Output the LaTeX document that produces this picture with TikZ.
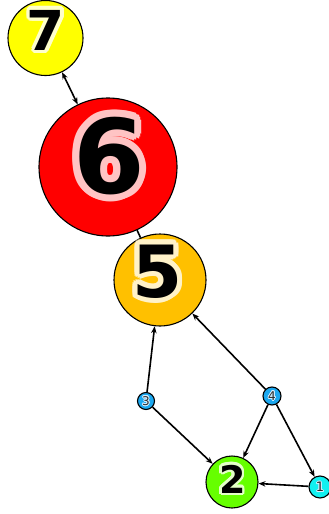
\documentclass[tikz,border=0pt]{standalone}
\usepackage{fontspec}
\setmainfont{DejaVu Sans}
\usetikzlibrary{arrows.meta}
\definecolor{cseven}{HTML}{FFFF00}
\definecolor{csix}{HTML}{FF0000}
\definecolor{cfive}{HTML}{FFC000}
\definecolor{ctwo}{HTML}{66FF00}
\definecolor{cblue}{HTML}{1BA8F0}
\definecolor{ccyan}{HTML}{11F0F0}
\definecolor{hseven}{HTML}{FFFFCC}
\definecolor{hsix}{HTML}{FFC4C4}
\definecolor{hfive}{HTML}{FFF2C8}
\definecolor{htwo}{HTML}{E4FFC8}
\definecolor{hblue}{HTML}{D4EEFF}
\definecolor{lgray}{HTML}{2A2A2A}
\newcommand{\halolabel}[7]{%
  \foreach \a in {0,22.5,...,337.5}
    \node[font=#7\fontsize{#2}{#2}\selectfont,text=#3,inner sep=0pt,shift={(\a:#4)}] at (#1) {#5};
  \node[font=#7\fontsize{#2}{#2}\selectfont,text=#6,inner sep=0pt] at (#1) {#5};}
\begin{document}
\begin{tikzpicture}[x=1pt,y=-1pt,
  vtx/.style={circle,draw=black,line width=1.1pt,inner sep=0pt,minimum size=#1},
  edge/.style={line width=1.6pt,-{Stealth[length=7pt,width=5.5pt]}},
  dedge/.style={line width=1.6pt,{Stealth[length=7pt,width=5.5pt]}-{Stealth[length=7pt,width=5.5pt]}}]
\useasboundingbox (0,0) rectangle (329,514);
\node[vtx=75pt,fill=cseven] (n7) at (45.5,38) {};
\node[vtx=138pt,fill=csix] (n6) at (108,167) {};
\node[vtx=92pt,fill=cfive] (n5) at (160,280) {};
\node[vtx=52pt,fill=ctwo] (n2) at (232,482) {};
\node[vtx=17pt,fill=cblue] (n3) at (146,401) {};
\node[vtx=18pt,fill=cblue] (n4) at (272,396) {};
\node[vtx=22pt,fill=ccyan] (n1) at (320,487) {};
\draw[dedge] (n7) -- (n6);
\draw[line width=1.6pt] (n6) -- (n5);
\draw[edge] (n3) -- (n5);
\draw[edge] (n4) -- (n5);
\draw[edge] (n3) -- (n2);
\draw[edge] (n4) -- (n2);
\draw[edge] (n4) -- (n1);
\draw[edge] (n1) -- (n2);
\coordinate (l7) at (46,30);
\coordinate (l6) at (109,156);
\coordinate (l5) at (157.5,271.5);
\coordinate (l2) at (232.5,479);
\halolabel{l7}{55}{hseven}{3.5}{7}{black}{\bfseries}
\halolabel{l6}{103}{hsix}{7}{6}{black}{\bfseries}
\halolabel{l5}{72}{hfive}{5}{5}{black}{\bfseries}
\halolabel{l2}{38}{htwo}{2.5}{2}{black}{\bfseries}
\halolabel{n3}{12}{hblue}{0.8}{3}{lgray}{}
\halolabel{n4}{12}{hblue}{0.8}{4}{lgray}{}
\halolabel{n1}{13}{hblue}{0.8}{1}{lgray}{}
\end{tikzpicture}
\end{document}
